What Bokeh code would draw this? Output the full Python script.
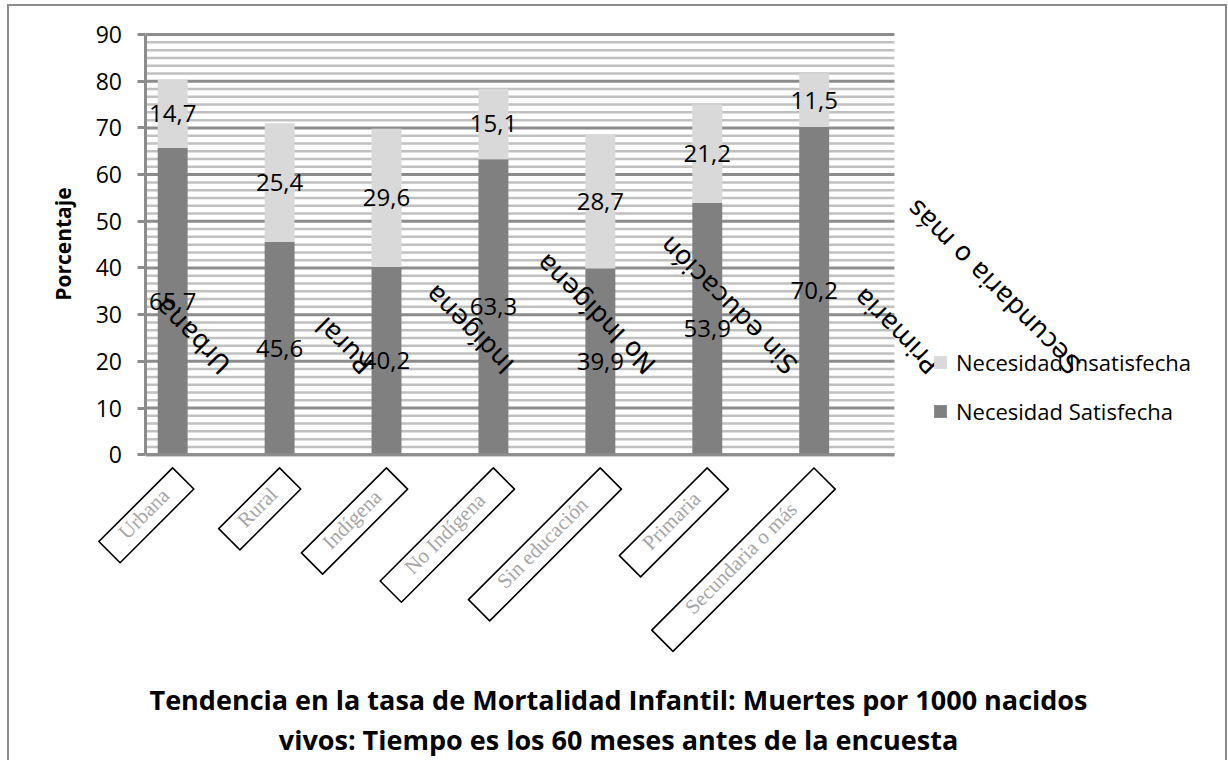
import math
from bokeh.plotting import figure
from bokeh.models import (ColumnDataSource, Range1d, FixedTicker, Label, LabelSet,
                          Legend, LegendItem)
from bokeh.core.properties import value
from bokeh.embed import file_html
from bokeh.resources import INLINE

# ---------------- data ----------------
categories = ["Urbana", "Rural", "Indígena", "No Indígena",
              "Sin educación", "Primaria", "Secundaria o más"]
satisfecha = [65.7, 45.6, 40.2, 63.3, 39.9, 53.9, 70.2]
insatisfecha = [14.7, 25.4, 29.6, 15.1, 28.7, 21.2, 11.5]
series_names = ["Necesidad Insatisfecha", "Necesidad Satisfecha"]
y_ticks = [0, 10, 20, 30, 40, 50, 60, 70, 80, 90]
y_label = "Porcentaje"
title_lines = ["Tendencia en la tasa de Mortalidad Infantil: Muertes por 1000 nacidos",
               "vivos: Tiempo es los 60 meses antes de la encuesta"]

# ---------------- styles / layout ----------------
DARK = "#808080"
LIGHT = "#d9d9d9"
GRID = "#8c8c8c"
STRIPE = "#c0c0c0"
SANS = "Open Sans"

n = len(categories)
HOST_X, HOST_Y, BORDER = 7, 4, 2
W, H = 1220, 756
CANVAS_X, CANVAS_Y = HOST_X + BORDER, HOST_Y + BORDER
CANVAS_W, CANVAS_H = W - 2 * BORDER, H - BORDER
FRAME_RIGHT = CANVAS_X + CANVAS_W
FRAME_BOTTOM = CANVAS_Y + CANVAS_H
# reference plot area (page pixels)
PLOT_LEFT, PLOT_RIGHT, PLOT_TOP, ZERO_Y = 145, 891, 34, 453
px_per_cat = (PLOT_RIGHT - PLOT_LEFT) / n
y_max = y_ticks[-1]
px_per_unit = (ZERO_Y - PLOT_TOP) / y_max


def dx(px):  # page x -> data x
    return (px - PLOT_LEFT) / px_per_cat


def dy(py):  # page y -> data y
    return (ZERO_Y - py) / px_per_unit


p = figure(width=W, height=H, output_backend="svg", toolbar_location=None,
           x_range=Range1d(dx(CANVAS_X), dx(FRAME_RIGHT)),
           y_range=Range1d(dy(FRAME_BOTTOM), dy(CANVAS_Y)),
           x_axis_location=None, min_border=0,
           min_border_left=0, min_border_right=0, min_border_top=0, min_border_bottom=0)
p.title = None
p.outline_line_color = None
p.background_fill_color = "white"
p.border_fill_color = "white"
p.grid.visible = False
bstyle = f"{BORDER}px solid {GRID}"
p.styles = {"margin-left": f"{HOST_X}px", "margin-top": f"{HOST_Y}px",
            "border-left": bstyle, "border-top": bstyle, "border-right": bstyle}

# background stripes + gridlines limited to the plot area
minor = [t + k * 10 / 6 for t in y_ticks[:-1] for k in range(1, 6)]
p.segment(x0=[0] * len(minor), x1=[n] * len(minor), y0=minor, y1=minor,
          line_color=STRIPE, line_width=2.5)
p.segment(x0=[0] * len(y_ticks), x1=[n] * len(y_ticks), y0=y_ticks, y1=y_ticks,
          line_color=GRID, line_width=3)

xs = [i + 0.25 for i in range(n)]
totals = [s + u for s, u in zip(satisfecha, insatisfecha)]
src = ColumnDataSource(dict(
    x=xs, sat=satisfecha, tot=totals,
    sat_mid=[s / 2 for s in satisfecha],
    ins_mid=[s + u / 2 for s, u in zip(satisfecha, insatisfecha)],
    sat_lbl=[f"{v:.1f}".replace(".", ",") for v in satisfecha],
    ins_lbl=[f"{v:.1f}".replace(".", ",") for v in insatisfecha],
))

r_sat = p.vbar(x="x", bottom=0, top="sat", width=0.28, fill_color=DARK,
               line_color=None, source=src)
r_ins = p.vbar(x="x", bottom="sat", top="tot", width=0.28, fill_color=LIGHT,
               line_color=None, source=src)
# x-axis line drawn over bar bottoms
p.segment(x0=[0], x1=[n], y0=[0], y1=[0], line_color=GRID, line_width=3)

for col in ("sat", "ins"):
    p.text(x="x", y=f"{col}_mid", text=f"{col}_lbl", source=src,
           text_font=value(SANS), text_font_size="24px", text_color="black",
           text_align="center", text_baseline="middle")

# y axis, fixed at x = 0 inside the (full-canvas) frame
p.yaxis.fixed_location = 0
p.yaxis.bounds = (0, y_max)
p.yaxis.ticker = FixedTicker(ticks=y_ticks)
p.yaxis.axis_line_color = GRID
p.yaxis.axis_line_width = 3
p.yaxis.major_tick_line_color = GRID
p.yaxis.major_tick_line_width = 3
p.yaxis.major_tick_out = 8
p.yaxis.major_tick_in = 0
p.yaxis.minor_tick_line_color = None
p.yaxis.major_label_text_font = SANS
p.yaxis.major_label_text_font_size = "23px"
p.yaxis.major_label_text_color = "black"
p.yaxis.major_label_standoff = 16

p.add_layout(Label(x=dx(62), y=dy(243), text=y_label, angle=math.pi / 2,
                   text_align="center", text_baseline="middle", text_font=SANS,
                   text_font_style="bold", text_font_size="21px", text_color="black"))

# mirrored category labels inside the plot
mir = ColumnDataSource(dict(x=[0.75 + 1.325 * i for i in range(n)], y=[18.3] * n,
                            text=categories))
p.add_layout(LabelSet(x="x", y="y", text="text", source=mir, angle=3 * math.pi / 4,
                      text_font=value("DejaVu Sans"), text_font_size="26px",
                      text_color="black", text_align="left", text_baseline="middle"))


# boxed category labels below the axis (rotated 45 degrees)
def est_em(s):  # rough serif text width in em
    w = 0.0
    for ch in s:
        if ch in "ilrtíjI ":
            w += 0.29
        elif ch in "mM":
            w += 0.78
        elif ch.isupper():
            w += 0.66
        else:
            w += 0.47
    return w


BOX_H = 30
c45 = math.cos(math.pi / 4)
box_len = [28 * est_em(c) + 25 for c in categories]
bx = [xs[i] + c45 * (BOX_H - L) / 2 / px_per_cat for i, L in enumerate(box_len)]
by = [dy(466) - c45 * (BOX_H + L) / 2 / px_per_unit for L in box_len]
boxes = ColumnDataSource(dict(x=bx, y=by, w=box_len, text=categories,
                              tx=[v - 2.5 / px_per_cat for v in bx],
                              ty=[v + 1.5 / px_per_unit for v in by]))
p.rect(x="x", y="y", width="w", height=BOX_H, width_units="screen",
       height_units="screen", angle=math.pi / 4, source=boxes,
       fill_color="white", line_color="black", line_width=1.6, line_join="round")
p.text(x="tx", y="ty", text="text", angle=math.pi / 4, source=boxes,
       text_font=value("Liberation Serif"), text_font_size="21px",
       text_color="#a6a6a6", text_align="center", text_baseline="middle")

# legend
legend = Legend(items=[LegendItem(label=series_names[0], renderers=[r_ins]),
                       LegendItem(label=series_names[1], renderers=[r_sat])],
                location=(932 - CANVAS_X, FRAME_BOTTOM - 424),
                glyph_width=16, glyph_height=16, label_standoff=8,
                spacing=19, padding=0, margin=0, border_line_color=None,
                background_fill_alpha=0, label_text_font=SANS,
                label_text_font_size="22px", label_text_color="black")
p.add_layout(legend)

# title (two lines, bottom)
for k, line in enumerate(title_lines):
    p.add_layout(Label(x=dx(616), y=dy(697 + 40 * k), text=line, text_align="center",
                       text_baseline="middle", text_font=SANS, text_font_style="bold",
                       text_font_size="27px", text_color="black"))

open("out.html", "w").write(file_html(p, INLINE))
